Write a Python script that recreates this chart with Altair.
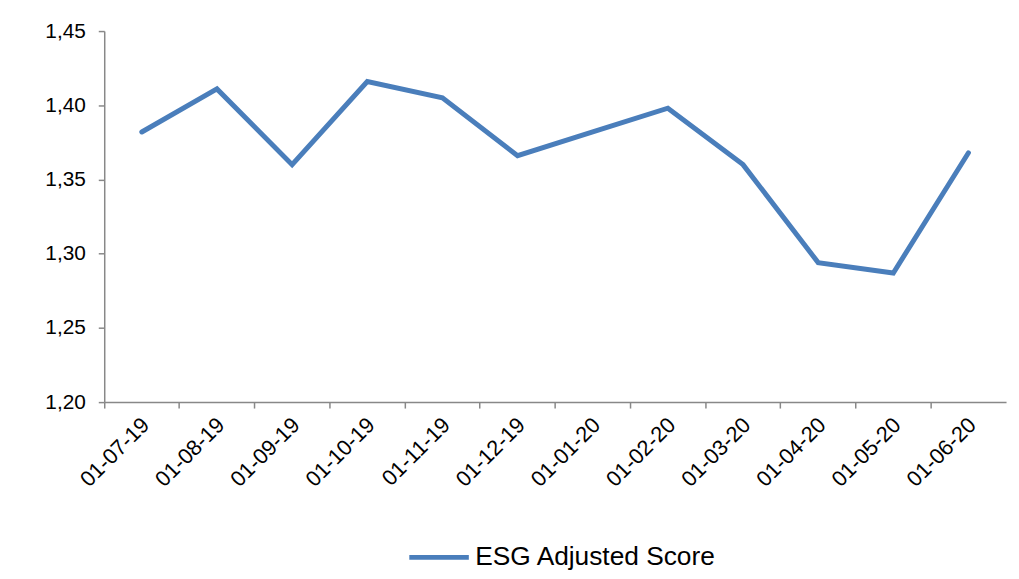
import altair as alt
import pandas as pd

dates = ["01-07-19", "01-08-19", "01-09-19", "01-10-19", "01-11-19", "01-12-19",
         "01-01-20", "01-02-20", "01-03-20", "01-04-20", "01-05-20", "01-06-20"]
scores = [1.382, 1.411, 1.360, 1.416, 1.405, 1.366,
          1.382, 1.398, 1.360, 1.294, 1.287, 1.368]
series = "ESG Adjusted Score"

df = pd.DataFrame({"date": dates, "score": scores, "series": [series] * len(dates)})

FONT = "Liberation Sans"
AXIS_GRAY = "#888888"
BLUE = "#4A7EBB"

chart = alt.Chart(df).mark_line(strokeWidth=5, strokeJoin="miter", strokeCap="round").encode(
    x=alt.X("date:N", sort=dates, bandPosition=0.5,
            scale=alt.Scale(type="band", paddingInner=0, paddingOuter=0),
            axis=alt.Axis(title=None, bandPosition=0, labelOffset=4,
                          labelAngle=-45, labelAlign="right", labelBaseline="middle",
                          labelFontSize=22, labelFont=FONT, labelColor="#000000",
                          labelPadding=13, tickSize=6, tickColor=AXIS_GRAY,
                          domainColor=AXIS_GRAY, domainWidth=1.5, tickWidth=1.5,
                          grid=False, labelOverlap=False)),
    y=alt.Y("score:Q", scale=alt.Scale(domain=[1.20, 1.45], nice=False, zero=False),
            axis=alt.Axis(title=None, values=[1.20, 1.25, 1.30, 1.35, 1.40, 1.45],
                          labelExpr="replace(format(datum.value, '.2f'), '.', ',')",
                          labelFontSize=21, labelFont=FONT, labelColor="#000000",
                          labelPadding=13, tickSize=6, tickColor=AXIS_GRAY,
                          domainColor=AXIS_GRAY, domainWidth=1.5, tickWidth=1.5,
                          grid=False)),
    color=alt.Color("series:N", scale=alt.Scale(range=[BLUE]),
                    legend=alt.Legend(title=None, orient="none", legendX=305, legendY=498,
                                      symbolType="stroke", symbolSize=3600,
                                      symbolStrokeWidth=5, labelFontSize=26.5,
                                      labelFont=FONT, labelColor="#000000",
                                      labelOffset=4, labelLimit=500)),
).properties(
    width=909,
    height=374,
    autosize=alt.AutoSizeParams(type="none"),
    padding={"left": 97, "top": 21, "right": 5, "bottom": 168},
).configure_view(stroke=None)

chart.save("out.html", embed_options={"renderer": "svg", "actions": False})
